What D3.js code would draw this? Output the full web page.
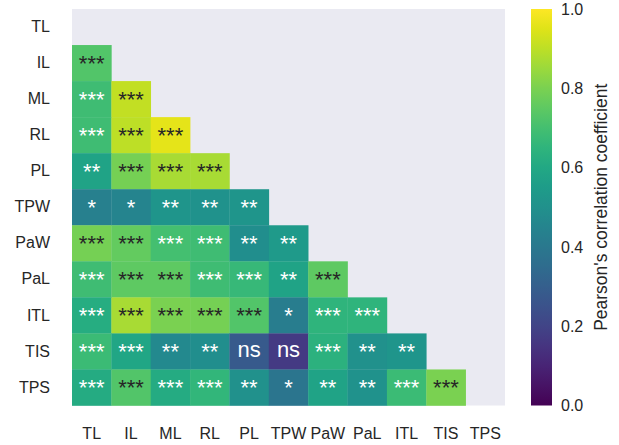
<!DOCTYPE html>
<html>
<head>
<meta charset="utf-8">
<script src="https://cdn.jsdelivr.net/npm/d3@7"></script>
<style>
  body { margin: 0; background: #fff; }
  svg { display: block; font-family: "Liberation Sans", Arial, sans-serif; }
</style>
</head>
<body>
<svg id="chart" width="619" height="445"></svg>
<script>
// variables, in row/column order
const labels = ["TL", "IL", "ML", "RL", "PL", "TPW", "PaW", "PaL", "ITL", "TIS", "TPS"]

// lower triangle of Pearson r, row i has i values
const corr = [
  [],
  [0.73],
  [0.69, 0.91],
  [0.69, 0.90, 0.96],
  [0.58, 0.79, 0.87, 0.87],
  [0.43, 0.45, 0.52, 0.51, 0.52],
  [0.79, 0.76, 0.70, 0.69, 0.49, 0.54],
  [0.69, 0.75, 0.75, 0.69, 0.67, 0.58, 0.75],
  [0.62, 0.87, 0.80, 0.79, 0.73, 0.42, 0.65, 0.65],
  [0.68, 0.59, 0.47, 0.49, 0.28, 0.17, 0.64, 0.50, 0.52],
  [0.61, 0.73, 0.61, 0.66, 0.50, 0.39, 0.58, 0.51, 0.68, 0.80]
]

const signif = [
  [],
  ["***"],
  ["***", "***"],
  ["***", "***", "***"],
  ["**", "***", "***", "***"],
  ["*", "*", "**", "**", "**"],
  ["***", "***", "***", "***", "**", "**"],
  ["***", "***", "***", "***", "***", "**", "***"],
  ["***", "***", "***", "***", "***", "*", "***", "***"],
  ["***", "***", "**", "**", "ns", "ns", "***", "**", "**"],
  ["***", "***", "***", "***", "**", "*", "**", "**", "***", "***"]
]

const cbarTicks = [0, 0.2, 0.4, 0.6, 0.8, 1.0]
const cbarLabel = "Pearson's correlation coefficient"

const svg = d3.select("#chart")
const textDark = "#262626"

const x = d3.scaleBand().domain(labels).range([72, 505])
const y = d3.scaleBand().domain(labels).range([9, 405.5])
const color = d3.scaleSequential(d3.interpolateViridis).domain([0, 1])

// seaborn-ish luminance test for annotation colour
const lum = (c) => {
  const rgb = d3.rgb(c)
  const f = (v) => {
    v = v / 255
    return v <= 0.03928 ? v / 12.92 : Math.pow((v + 0.055) / 1.055, 2.4)
  }
  return 0.2126 * f(rgb.r) + 0.7152 * f(rgb.g) + 0.0722 * f(rgb.b)
}

svg.append("rect")
  .attr("x", 72).attr("y", 9)
  .attr("width", x.range()[1] - 72)
  .attr("height", y.range()[1] - 9)
  .attr("fill", "#eaeaf2")

const cells = []
corr.forEach((row, i) => {
  row.forEach((v, j) => {
    cells.push({ r: labels[i], c: labels[j], v: v, s: signif[i][j] })
  })
})

const g = svg.append("g")
g.selectAll("rect.cell")
  .data(cells)
  .join("rect")
  .attr("class", "cell")
  .attr("x", d => x(d.c))
  .attr("y", d => y(d.r))
  .attr("width", x.bandwidth() + 0.3)
  .attr("height", y.bandwidth() + 0.3)
  .attr("fill", d => color(d.v))

// asterisks sit high in the font, so nudge them down less than "ns"
g.selectAll("text.annot")
  .data(cells)
  .join("text")
  .attr("class", "annot")
  .attr("x", d => x(d.c) + x.bandwidth() / 2)
  .attr("y", d => y(d.r) + y.bandwidth() / 2)
  .attr("dy", d => d.s === "ns" ? 5.8 : 8)
  .attr("text-anchor", "middle")
  .attr("font-size", 22)
  .attr("fill", d => lum(color(d.v)) > 0.408 ? textDark : "#ffffff")
  .text(d => d.s)

// axes
const yAxis = svg.append("g")
  .attr("transform", "translate(72,0)")
  .call(d3.axisLeft(y).tickSize(0).tickPadding(22))
yAxis.select(".domain").remove()
yAxis.selectAll("text").attr("font-size", 16).attr("fill", textDark)
  .attr("font-family", "Liberation Sans, Arial, sans-serif")

const xAxis = svg.append("g")
  .attr("transform", `translate(0,${y.range()[1]})`)
  .call(d3.axisBottom(x).tickSize(0).tickPadding(22))
xAxis.select(".domain").remove()
xAxis.selectAll("text").attr("font-size", 16).attr("fill", textDark)
  .attr("font-family", "Liberation Sans, Arial, sans-serif")

// colorbar
const cb = { x: 531, w: 21 }
const cy = d3.scaleLinear().domain([0, 1]).range([405.5, 9])
const grad = svg.append("defs").append("linearGradient")
  .attr("id", "vir").attr("x1", 0).attr("y1", 1).attr("x2", 0).attr("y2", 0)
d3.range(0, 1.0001, 0.05).forEach(t => {
  grad.append("stop").attr("offset", t).attr("stop-color", d3.interpolateViridis(t))
})
svg.append("rect")
  .attr("x", cb.x).attr("y", cy(1))
  .attr("width", cb.w).attr("height", cy(0) - cy(1))
  .attr("fill", "url(#vir)")

const cAxis = svg.append("g")
  .attr("transform", `translate(${cb.x + cb.w},0)`)
  .call(d3.axisRight(cy).tickValues(cbarTicks).tickFormat(d3.format(".1f")).tickSize(0).tickPadding(9))
cAxis.select(".domain").remove()
cAxis.selectAll("text").attr("font-size", 16).attr("fill", textDark)
  .attr("font-family", "Liberation Sans, Arial, sans-serif")

svg.append("text")
  .attr("transform", `translate(607,${(cy(0) + cy(1)) / 2}) rotate(-90)`)
  .attr("text-anchor", "middle")
  .attr("font-size", 17.5)
  .attr("fill", textDark)
  .text(cbarLabel)
</script>
</body>
</html>
